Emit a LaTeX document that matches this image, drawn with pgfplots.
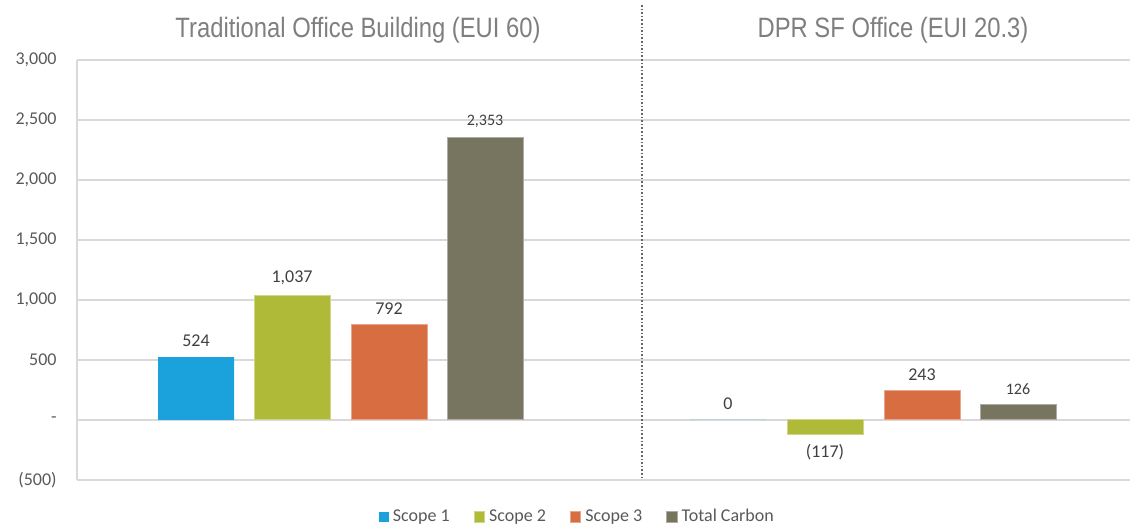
\documentclass[border=0pt]{standalone}
\usepackage{pgfplots}
\pgfplotsset{compat=1.18}
\usepackage{fontspec}
\setmainfont{Carlito}
\newfontfamily\titlefont[FakeStretch=0.85]{Liberation Sans}
\definecolor{sone}{HTML}{1BA1DB}
\definecolor{stwo}{HTML}{AFBB38}
\definecolor{sthree}{HTML}{D86D41}
\definecolor{stot}{HTML}{777560}
\definecolor{txt}{HTML}{404040}
\definecolor{tick}{HTML}{595959}
\definecolor{ttl}{HTML}{7F7F7F}
\definecolor{grd}{HTML}{D9D9D9}

% x in image pixels (left edge of plot = 77), y in tCO2e
\pgfplotstableread{
x y lab
196 524 524
728 0 0
}\scopeone
\pgfplotstableread{
x y lab
292 1037 1,037
}\scopetwo
\pgfplotstableread{
x y lab
825 -117 (117)
}\scopetwoneg
\pgfplotstableread{
x y lab
389 792 792
922 243 243
}\scopethree
\pgfplotstableread{
x y lab
485 2353 2,353
1018 126 126
}\total

\begin{document}
\begin{tikzpicture}
\path[use as bounding box] (0,0) rectangle (565pt,264.5pt);
\begin{axis}[
  at={(38.5pt,24.5pt)}, anchor=south west,
  scale only axis, width=526.5pt, height=210pt,
  xmin=77, xmax=1130, ymin=-500, ymax=3000,
  ybar, bar width=76, bar shift=0pt,
  clip=false,
  axis x line*=bottom, axis y line*=left,
  axis line style={grd, line width=0.6pt, -},
  xtick=\empty,
  ytick={-500,0,500,1000,1500,2000,2500,3000},
  yticklabels={{(500)},{-\hspace{10pt}},{500\hspace{3pt}},{1,000\hspace{3pt}},{1,500\hspace{3pt}},{2,000\hspace{3pt}},{2,500\hspace{3pt}},{3,000\hspace{3pt}}},
  yticklabel style={font=\fontsize{9}{10}\selectfont, text=tick, inner sep=0pt, xshift=-10pt},
  major tick length=0pt,
  ymajorgrids, grid style={grd, line width=0.6pt},
  point meta=explicit symbolic,
  nodes near coords,
  nodes near coords style={font=\fontsize{9}{10}\selectfont, text=txt, inner xsep=0pt, inner ysep=5pt, anchor=south},
  legend style={at={(0.476,-0.088)}, anchor=center, draw=none, fill=none,
    legend columns=4, font=\fontsize{9}{10}\selectfont, text=tick,
    /tikz/every even column/.append style={column sep=10pt}},
  legend image code/.code={\fill[#1] (0pt,-2.6pt) rectangle (5.2pt,2.6pt);},
]
\addplot[fill=sone, draw=none] table[x=x, y=y, meta=lab] {\scopeone};
\addplot[fill=stwo, draw=stwo!60!white, line width=0.5pt] table[x=x, y=y, meta=lab] {\scopetwo};
\addplot[fill=sthree, draw=sthree!60!white, line width=0.5pt] table[x=x, y=y, meta=lab] {\scopethree};
\addplot[fill=stot, draw=stot!60!white, line width=0.5pt,
  nodes near coords style={font=\fontsize{8}{9}\selectfont}] table[x=x, y=y, meta=lab] {\total};
\addplot[forget plot, fill=stwo, draw=stwo!60!white, line width=0.5pt,
  nodes near coords style={anchor=north}] table[x=x, y=y, meta=lab] {\scopetwoneg};
\legend{Scope 1, Scope 2, Scope 3, Total Carbon}
\draw[densely dotted, black!60, line width=0.8pt] (axis cs:642,3458) -- (axis cs:642,-500);
\node[font=\titlefont\fontsize{14}{16}\selectfont, text=ttl] at (axis cs:358,3250) {Traditional Office Building (EUI 60)};
\node[font=\titlefont\fontsize{14}{16}\selectfont, text=ttl] at (axis cs:893,3250) {DPR SF Office (EUI 20.3)};
\end{axis}
\end{tikzpicture}
\end{document}
